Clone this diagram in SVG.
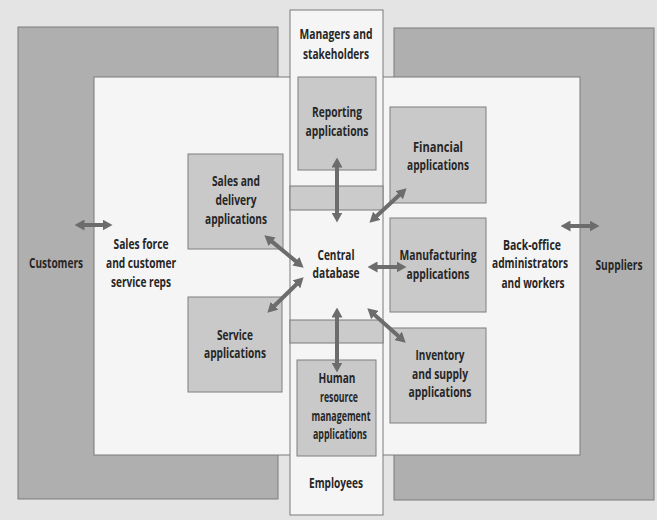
<svg xmlns="http://www.w3.org/2000/svg" width="657" height="520" viewBox="0 0 657 520">
  <defs>
    <style>
      .panel { fill: #afafaf; stroke: #7a7a7a; stroke-width: 1; }
      .white { fill: #f5f5f5; stroke: #7a7a7a; stroke-width: 1; }
      .band { fill: #cbcbcb; stroke: #7a7a7a; stroke-width: 1; }
      .app { fill: #c9c9c9; stroke: #7f7f7f; stroke-width: 1; }
      .lbl { font-family: "Open Sans", "Liberation Sans", sans-serif; font-weight: 700; font-size: 14px; fill: #262626; text-anchor: middle; }
      .link { stroke: #6c6c6c; stroke-width: 4; fill: none; marker-start: url(#head); marker-end: url(#head); }
    </style>
    <marker id="head" viewBox="0 0 10 11" markerUnits="userSpaceOnUse" markerWidth="10" markerHeight="11" refX="0.5" refY="5.5" orient="auto-start-reverse">
      <path d="M0,0 L10,5.5 L0,11 z" fill="#6c6c6c"/>
    </marker>
  </defs>

  <!-- page -->
  <rect x="0" y="0" width="657" height="520" fill="#e4e4e4"/>

  <!-- outer parties -->
  <g id="customers">
    <rect class="panel" x="18" y="27" width="260" height="472"/>
    <text class="lbl" x="56" y="268" textLength="54" lengthAdjust="spacingAndGlyphs">Customers</text>
  </g>
  <g id="suppliers">
    <rect class="panel" x="394" y="28" width="260" height="472"/>
    <text class="lbl" x="619" y="270" textLength="47" lengthAdjust="spacingAndGlyphs">Suppliers</text>
  </g>

  <!-- company staff layer -->
  <g id="staff">
    <rect class="white" x="94" y="77" width="486" height="378"/>
  </g>
  <g id="sales-force">
    <text class="lbl" x="141" y="249" textLength="55" lengthAdjust="spacingAndGlyphs">Sales force</text>
    <text class="lbl" x="141" y="268" textLength="70" lengthAdjust="spacingAndGlyphs">and customer</text>
    <text class="lbl" x="141" y="287" textLength="60" lengthAdjust="spacingAndGlyphs">service reps</text>
  </g>
  <g id="back-office">
    <text class="lbl" x="532" y="250" textLength="58" lengthAdjust="spacingAndGlyphs">Back-office</text>
    <text class="lbl" x="530" y="268" textLength="76" lengthAdjust="spacingAndGlyphs">administrators</text>
    <text class="lbl" x="533" y="288" textLength="63" lengthAdjust="spacingAndGlyphs">and workers</text>
  </g>

  <!-- vertical strip: managers to employees -->
  <g id="strip">
    <rect class="white" x="290" y="10" width="93" height="505"/>
    <rect class="band" x="290" y="186" width="93" height="24"/>
    <rect class="band" x="290" y="320" width="93" height="23"/>
  </g>
  <g id="managers">
    <text class="lbl" x="336" y="39" textLength="73" lengthAdjust="spacingAndGlyphs">Managers and</text>
    <text class="lbl" x="336" y="59" textLength="66" lengthAdjust="spacingAndGlyphs">stakeholders</text>
  </g>
  <g id="employees">
    <text class="lbl" x="336" y="488" textLength="54" lengthAdjust="spacingAndGlyphs">Employees</text>
  </g>

  <!-- applications -->
  <g id="reporting">
    <rect class="app" x="298" y="77" width="78" height="93"/>
    <text class="lbl" x="337" y="117" textLength="50" lengthAdjust="spacingAndGlyphs">Reporting</text>
    <text class="lbl" x="337" y="136" textLength="63" lengthAdjust="spacingAndGlyphs">applications</text>
  </g>
  <g id="sales-delivery">
    <rect class="app" x="188" y="154" width="95" height="95"/>
    <text class="lbl" x="236" y="186" textLength="48" lengthAdjust="spacingAndGlyphs">Sales and</text>
    <text class="lbl" x="236" y="205" textLength="41" lengthAdjust="spacingAndGlyphs">delivery</text>
    <text class="lbl" x="236" y="224" textLength="62" lengthAdjust="spacingAndGlyphs">applications</text>
  </g>
  <g id="service">
    <rect class="app" x="188" y="297" width="94" height="95"/>
    <text class="lbl" x="235" y="340" textLength="36" lengthAdjust="spacingAndGlyphs">Service</text>
    <text class="lbl" x="235" y="358" textLength="62" lengthAdjust="spacingAndGlyphs">applications</text>
  </g>
  <g id="financial">
    <rect class="app" x="390" y="107" width="96" height="96"/>
    <text class="lbl" x="438" y="152" textLength="50" lengthAdjust="spacingAndGlyphs">Financial</text>
    <text class="lbl" x="438" y="170" textLength="62" lengthAdjust="spacingAndGlyphs">applications</text>
  </g>
  <g id="manufacturing">
    <rect class="app" x="390" y="218" width="96" height="94"/>
    <text class="lbl" x="438" y="260" textLength="77" lengthAdjust="spacingAndGlyphs">Manufacturing</text>
    <text class="lbl" x="438" y="279" textLength="63" lengthAdjust="spacingAndGlyphs">applications</text>
  </g>
  <g id="inventory">
    <rect class="app" x="390" y="328" width="96" height="95"/>
    <text class="lbl" x="440" y="360" textLength="49" lengthAdjust="spacingAndGlyphs">Inventory</text>
    <text class="lbl" x="440" y="379" textLength="56" lengthAdjust="spacingAndGlyphs">and supply</text>
    <text class="lbl" x="440" y="397" textLength="63" lengthAdjust="spacingAndGlyphs">applications</text>
  </g>
  <g id="human-resource">
    <rect class="app" x="297" y="360" width="79" height="96"/>
    <text class="lbl" x="337" y="383" textLength="37" lengthAdjust="spacingAndGlyphs">Human</text>
    <text class="lbl" x="339" y="402" textLength="38" lengthAdjust="spacingAndGlyphs">resource</text>
    <text class="lbl" x="341" y="421" textLength="59" lengthAdjust="spacingAndGlyphs">management</text>
    <text class="lbl" x="340" y="439" textLength="54" lengthAdjust="spacingAndGlyphs">applications</text>
  </g>
  <g id="central-database">
    <text class="lbl" x="336" y="260" textLength="37" lengthAdjust="spacingAndGlyphs">Central</text>
    <text class="lbl" x="336" y="278" textLength="47" lengthAdjust="spacingAndGlyphs">database</text>
  </g>

  <!-- two-way data flows -->
  <g id="connectors">
    <line class="link" x1="84" y1="225" x2="103" y2="225"/>
    <line class="link" x1="570" y1="226" x2="590" y2="226"/>
    <line class="link" x1="337" y1="167" x2="337" y2="213"/>
    <line class="link" x1="376.4" y1="216.2" x2="399.6" y2="194.8"/>
    <line class="link" x1="271.7" y1="241.4" x2="296.3" y2="261.6"/>
    <line class="link" x1="296.8" y1="284" x2="274.2" y2="306"/>
    <line class="link" x1="377" y1="267" x2="397" y2="267"/>
    <line class="link" x1="374.4" y1="314.7" x2="398.6" y2="336.3"/>
    <line class="link" x1="337" y1="317" x2="337" y2="363"/>
  </g>
</svg>
